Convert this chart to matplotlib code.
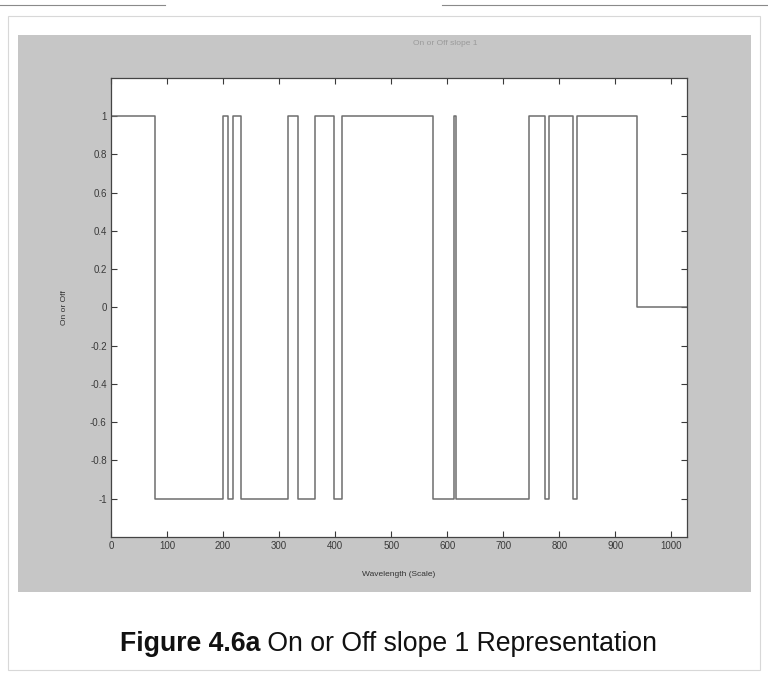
import matplotlib
matplotlib.use("Agg")
import matplotlib.pyplot as plt
from matplotlib.patches import Rectangle
from matplotlib.lines import Line2D

# Data: step signal (value holds from each edge to the next)
edge_x = [0, 79, 200, 209, 218, 232, 316, 334, 364, 398, 412, 575, 612, 616,
          746, 775, 782, 824, 831, 938, 1028]
levels = [1, -1, 1, -1, 1, -1, 1, -1, 1, -1, 1, -1, 1, -1,
          1, -1, 1, -1, 1, 0, 0]
x_ticks = [0, 100, 200, 300, 400, 500, 600, 700, 800, 900, 1000]
y_ticks = [-1, -0.8, -0.6, -0.4, -0.2, 0, 0.2, 0.4, 0.6, 0.8, 1]
y_tick_labels = ["-1", "-0.8", "-0.6", "-0.4", "-0.2", "0", "0.2", "0.4", "0.6", "0.8", "1"]

plt.rcParams['font.family'] = ['Liberation Sans', 'DejaVu Sans']

fig = plt.figure(figsize=(7.68, 6.78), dpi=100)
fig.patch.set_facecolor('white')

# page frame and rules
fig.add_artist(Rectangle((0.010, 0.012), 0.980, 0.965, transform=fig.transFigure,
                         fill=False, edgecolor='#d8d8d8', lw=0.8))
fig.add_artist(Line2D([0.0, 0.215], [0.992, 0.992], transform=fig.transFigure,
                      color='#8a8a8a', lw=0.8))
fig.add_artist(Line2D([0.575, 1.0], [0.992, 0.992], transform=fig.transFigure,
                      color='#8a8a8a', lw=0.8))

# grey MATLAB figure panel
fig.add_artist(Rectangle((0.0234, 0.127), 0.955, 0.821, transform=fig.transFigure,
                         facecolor='#c6c6c6', edgecolor='none', zorder=0))

ax = fig.add_axes([0.1445, 0.208, 0.750, 0.677])
ax.set_facecolor('white')
ax.step(edge_x, levels, where='post', color='#6e6e6e', lw=1.1)

ax.set_xlim(0, 1028)
ax.set_ylim(-1.2, 1.2)
ax.set_xticks(x_ticks)
ax.set_xticklabels([str(v) for v in x_ticks])
ax.set_yticks(y_ticks)
ax.set_yticklabels(y_tick_labels)
ax.tick_params(direction='in', top=True, right=True, length=4, width=0.8,
               labelsize=7, colors='#3a3a3a', pad=3)
for s in ax.spines.values():
    s.set_color('#444444')
    s.set_linewidth(0.9)

ax.set_xlabel("Wavelength (Scale)", fontsize=6, color='#333333', labelpad=14)
ax.set_ylabel("On or Off", fontsize=6, color='#333333', labelpad=16)

fig.text(0.58, 0.936, "On or Off slope 1", fontsize=6, color='#9a9a9a',
         ha='center', va='center')

# caption
t1 = fig.text(0.156, 0.031, "Figure 4.6a", fontsize=19.2, fontweight='bold',
              ha='left', va='bottom', color='#111111')
plt.annotate(" On or Off slope 1 Representation", xy=(1, 0), xycoords=t1,
             ha='left', va='bottom', fontsize=19.2, color='#111111',
             annotation_clip=False)

fig.savefig("out.png", dpi=100, facecolor='white')
